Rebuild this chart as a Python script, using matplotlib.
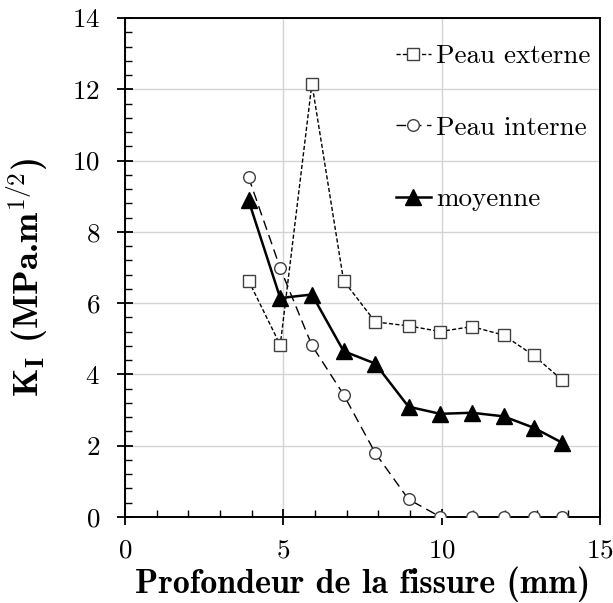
import matplotlib
matplotlib.use('Agg')
import matplotlib.pyplot as plt
from matplotlib.ticker import MultipleLocator

plt.rcParams['font.family'] = 'cmr10'
plt.rcParams['mathtext.fontset'] = 'cm'
plt.rcParams['axes.unicode_minus'] = False
plt.rcParams['axes.formatter.use_mathtext'] = True

# Data
depth = [3.9, 4.9, 5.9, 6.9, 7.9, 8.95, 9.95, 10.95, 11.95, 12.9, 13.8]
peau_externe = [6.63, 4.82, 12.16, 6.63, 5.47, 5.36, 5.20, 5.34, 5.10, 4.53, 3.84]
peau_interne = [9.53, 6.98, 4.81, 3.43, 1.79, 0.49, 0.0, 0.0, 0.0, 0.0, 0.0]
moyenne = [8.88, 6.14, 6.24, 4.65, 4.30, 3.09, 2.89, 2.92, 2.82, 2.50, 2.08]

fig = plt.figure(figsize=(6.13, 6.03), dpi=100)
ax = fig.add_axes([0.204, 0.143, 0.775, 0.827])

ax.plot(depth, peau_externe, color='black', lw=1.0, dashes=(3, 1.6),
        marker='s', ms=9, mfc='white', mec='#404040', mew=1.0,
        label='Peau externe', zorder=3)
ax.plot(depth, peau_interne, color='black', lw=1.0, dashes=(7, 4),
        marker='o', ms=8.4, mfc='white', mec='#404040', mew=1.0,
        label='Peau interne', zorder=4)
ax.plot(depth, moyenne, color='black', lw=1.8,
        marker='^', ms=12, mfc='black', mec='black',
        label='moyenne', zorder=5)

ax.set_xlim(0, 15)
ax.set_ylim(0, 14)
ax.xaxis.set_major_locator(MultipleLocator(5))
ax.xaxis.set_minor_locator(MultipleLocator(1))
ax.yaxis.set_major_locator(MultipleLocator(2))
ax.yaxis.set_minor_locator(MultipleLocator(0.4))
ax.tick_params(which='major', direction='inout', length=12, width=1.3,
               labelsize=19.5, top=False, right=False)
ax.tick_params(axis='y', which='major', pad=12)
ax.tick_params(axis='x', which='major', pad=10)
ax.tick_params(which='minor', direction='in', length=5, width=1.0,
               top=False, right=False)
ax.grid(True, which='major', color='#d4d4d4', lw=1.0)
ax.set_axisbelow(True)
for s in ax.spines.values():
    s.set_linewidth(1.4)

ax.set_xlabel('Profondeur de la fissure (mm)', family='cmb10', fontsize=24.5, labelpad=3)
ax.set_ylabel(r'K$_\mathbf{I}$ (MPa.m$^{1/2}$)', family='cmb10', fontsize=26)
ax.yaxis.set_label_coords(-0.158, 0.48)

ax.legend(loc='upper right', bbox_to_anchor=(1.02, 0.985), frameon=False,
          fontsize=19.5, handlelength=1.3, handletextpad=0.2,
          labelspacing=1.75, borderaxespad=0.3)

fig.savefig('out.png', dpi=100)
